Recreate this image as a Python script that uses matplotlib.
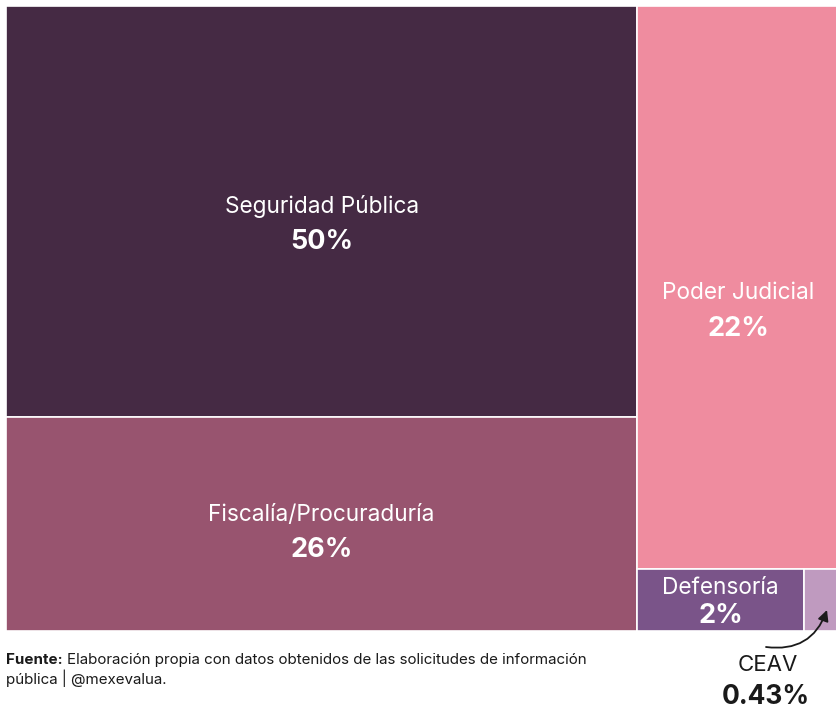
import matplotlib
matplotlib.use('Agg')
import matplotlib.pyplot as plt
from matplotlib.patches import Rectangle

# datos: distribucion del presupuesto (%)
categorias = ['Seguridad Pública', 'Fiscalía/Procuraduría', 'Poder Judicial', 'Defensoría', 'CEAV']
valores = [50, 26, 22, 2, 0.43]
etiquetas_pct = ['50%', '26%', '22%', '2%', '0.43%']

colores = ['#452a44', '#98546f', '#ef8c9f', '#7a5489', '#bf9abf']
plt.rcParams['font.family'] = ['Inter', 'DejaVu Sans']


def layout(vals):
    """treemap sencillo: columna izq (0,1), columna der (2) + fila abajo (3,4)"""
    total = sum(vals)
    wl = (vals[0] + vals[1]) / total
    rects = []
    # columna izquierda
    h0 = vals[0] / (vals[0] + vals[1])
    rects.append((0, 1 - h0, wl, h0))
    rects.append((0, 0, wl, 1 - h0))
    # columna derecha
    wr = 1 - wl
    resto = vals[2] + vals[3] + vals[4]
    h2 = vals[2] / resto
    rects.append((wl, 1 - h2, wr, h2))
    w3 = vals[3] / (vals[3] + vals[4]) * wr
    rects.append((wl, 0, w3, 1 - h2))
    rects.append((wl + w3, 0, wr - w3, 1 - h2))
    return rects


fig = plt.figure(figsize=(8.36, 7.11), dpi=100)
# el treemap original sale un poco del borde derecho
ax = fig.add_axes([6 / 836, (711 - 631) / 711, 834 / 836, 625 / 711])
ax.set_xlim(0, 1)
ax.set_ylim(0, 1)
ax.axis('off')

rects = layout(valores)
# desplazamientos (px) de nombre y porcentaje respecto al centro
offs = [(5, -30), (9, -26), (-6, -42), (12, -16)]
for i, (x, y, w, h) in enumerate(rects):
    ax.add_patch(Rectangle((x, y), w, h, facecolor=colores[i], edgecolor='white', linewidth=1.2,
                           clip_on=False))
    if i < 4:
        cx, cy = x + w / 2, y + h / 2
        o1, o2 = offs[i]
        ax.annotate(categorias[i], (cx, cy), xytext=(0, o1 * 0.72), textcoords='offset points',
                    ha='center', va='center', color='white', fontsize=16.3)
        ax.annotate(etiquetas_pct[i], (cx, cy), xytext=(0, o2 * 0.72), textcoords='offset points',
                    ha='center', va='center', color='white', fontsize=19.5, fontweight='bold')

# CEAV fuera del recuadro con flecha
ax.annotate('', xy=(827, 711 - 610), xycoords='figure pixels',
            xytext=(766, 711 - 647), textcoords='figure pixels',
            arrowprops=dict(arrowstyle='-|>', color='#1a1a1a', lw=1.3, shrinkA=0, shrinkB=0,
                            connectionstyle='arc3,rad=0.4', mutation_scale=16))
fig.text(768 / 836, 1 - 665 / 711, categorias[4], ha='center', va='center', fontsize=16, color='#1a1a1a')
fig.text(766 / 836, 1 - 697 / 711, etiquetas_pct[4], ha='center', va='center', fontsize=19,
         fontweight='bold', color='#1a1a1a')

# fuente
t1 = fig.text(6 / 836, 1 - 660 / 711, 'Fuente:', fontsize=10.9, fontweight='bold', color='#1a1a1a', va='center')
r = fig.canvas.get_renderer()
bb = t1.get_window_extent(renderer=r)
fig.text(bb.x1 / 836 + 4 / 836, 1 - 660 / 711,
         'Elaboración propia con datos obtenidos de las solicitudes de información',
         fontsize=10.9, color='#1a1a1a', va='center')
fig.text(6 / 836, 1 - 678 / 711, 'pública | @mexevalua.', fontsize=10.9, color='#1a1a1a', va='center')

fig.savefig('out.png', dpi=100, facecolor='white')
